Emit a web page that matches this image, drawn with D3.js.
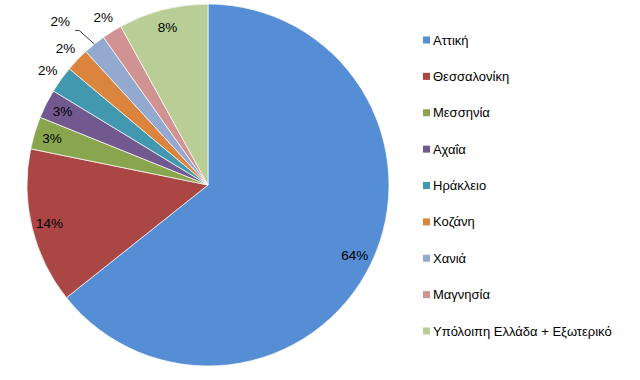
<!DOCTYPE html>
<html><head><meta charset="utf-8">
<script src="https://cdn.jsdelivr.net/npm/d3@7"></script>
<style>body{margin:0;background:#fff}svg{display:block}text{font-family:"Liberation Sans",Arial,sans-serif;fill:#000}</style>
</head><body><svg id="c" width="640" height="380"></svg>
<script>
const categories = ["Αττική","Θεσσαλονίκη","Μεσσηνία","Αχαΐα","Ηράκλειο","Κοζάνη","Χανιά","Μαγνησία","Υπόλοιπη Ελλάδα + Εξωτερικό"];
const values = [64.3, 13.9, 2.9, 2.6, 2.4, 2.1, 2.0, 1.8, 8.0];
const labels = ["64%","14%","3%","3%","2%","2%","2%","2%","8%"];
const colors = ["#558ED5","#AA4644","#89A54E","#71588F","#4198AF","#DB843D","#93A9CF","#D19392","#B9CD96"];

const svg = d3.select("#c");
const cx = 208, cy = 185, R = 181;
const g = svg.append("g").attr("transform", `translate(${cx},${cy})`);
const pie = d3.pie().sort(null).value(d => d.v);
const data = pie(values.map((v,i)=>({v, i})));
const arc = d3.arc().innerRadius(0).outerRadius(R);
g.selectAll("path").data(data).join("path")
  .attr("d", arc).attr("fill", d => colors[d.data.i])
  .attr("stroke", "#fff").attr("stroke-width", 0.7);

const inArc = d3.arc().innerRadius(R*0.9).outerRadius(R*0.9);
const outArc = d3.arc().innerRadius(R*1.09).outerRadius(R*1.09);
const edgeArc = d3.arc().innerRadius(R).outerRadius(R);
data.forEach((d,i) => {
  let [x,y] = (d.data.v >= 2.5 ? inArc : outArc).centroid(d);
  if (i === 6) { // label displaced by collision, with leader line
    const [ex,ey] = edgeArc.centroid(d);
    x -= 24; y -= 10;
    g.append("polyline").attr("fill","none").attr("stroke","#000").attr("stroke-width",0.8)
      .attr("points", `${x+15},${y+9} ${x+19},${y+9} ${ex},${ey}`);
  }
  g.append("text").attr("x", x).attr("y", y).attr("text-anchor","middle")
    .attr("dominant-baseline","central").style("font-size","13.5px").text(labels[i]);
});

const leg = svg.append("g");
const ly = d3.scalePoint().domain(categories).range([40, 331]);
categories.forEach((c,i) => {
  const y = ly(c);
  leg.append("rect").attr("x", 423).attr("y", y-3.5).attr("width", 7).attr("height", 7).attr("fill", colors[i]);
  leg.append("text").attr("x", 433).attr("y", y).attr("dominant-baseline","central")
    .style("font-size","13px").text(c);
});
</script></body></html>
